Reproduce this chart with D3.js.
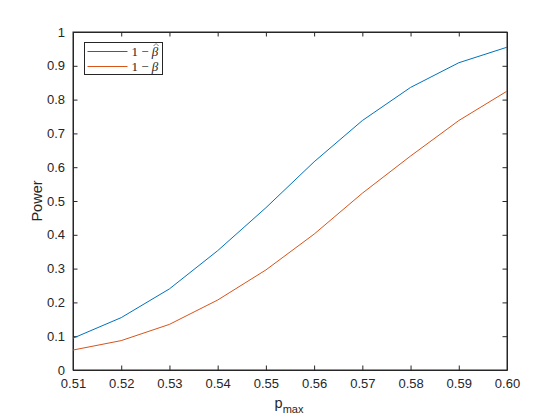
<!DOCTYPE html>
<html>
<head>
<meta charset="utf-8">
<script src="https://cdn.jsdelivr.net/npm/d3@7"></script>
<style>
  body { margin: 0; background: #fff; }
  text { font-family: 'Liberation Sans', Arial, sans-serif; fill: #262626; }
</style>
</head>
<body>
<div id="chart"></div>
<script>
// data
const pmax = [0.51, 0.52, 0.53, 0.54, 0.55, 0.56, 0.57, 0.58, 0.59, 0.60];
const powerHat = [0.094, 0.155, 0.240, 0.353, 0.480, 0.616, 0.738, 0.836, 0.909, 0.955];
const power = [0.059, 0.087, 0.135, 0.207, 0.296, 0.402, 0.523, 0.633, 0.738, 0.825];
const xTicks = [0.51, 0.52, 0.53, 0.54, 0.55, 0.56, 0.57, 0.58, 0.59, 0.60];
const yTicks = [0, 0.1, 0.2, 0.3, 0.4, 0.5, 0.6, 0.7, 0.8, 0.9, 1];

const W = 560, H = 420;
const margin = { top: 32, right: 53, bottom: 50, left: 73 };
const width = W - margin.left - margin.right;
const height = H - margin.top - margin.bottom;

const svg = d3.select('#chart')
  .append('svg')
    .attr('width', W)
    .attr('height', H)
  .append('g')
    .attr('transform', `translate(${margin.left},${margin.top})`);

const x = d3.scaleLinear().domain([0.51, 0.60]).range([0, width]);
const y = d3.scaleLinear().domain([0, 1]).range([height, 0]);

const tickLen = 4.5;

// axes, ticks pointing inwards like matlab
svg.append('g')
  .attr('transform', `translate(0,${height})`)
  .call(d3.axisBottom(x).tickValues(xTicks).tickFormat(d3.format('.2f')).tickSizeInner(-tickLen).tickSizeOuter(0).tickPadding(9));
svg.append('g')
  .call(d3.axisLeft(y).tickValues(yTicks).tickFormat(d => d === 0 ? '0' : d === 1 ? '1' : d3.format('.1f')(d)).tickSizeInner(-tickLen).tickSizeOuter(0).tickPadding(8));
svg.append('g')
  .call(d3.axisTop(x).tickValues(xTicks).tickFormat('').tickSizeInner(-tickLen).tickSizeOuter(0));
svg.append('g')
  .attr('transform', `translate(${width},0)`)
  .call(d3.axisRight(y).tickValues(yTicks).tickFormat('').tickSizeInner(-tickLen).tickSizeOuter(0));

svg.selectAll('.domain, .tick line').attr('stroke', '#262626').attr('stroke-width', 1);
svg.selectAll('.tick text').style('font-size', '13px').attr('fill', '#262626')
  .style('font-family', "'Liberation Sans', Arial, sans-serif");

// box
svg.append('rect')
  .attr('x', 0).attr('y', 0)
  .attr('width', width).attr('height', height)
  .attr('fill', 'none')
  .attr('stroke', '#262626')
  .attr('stroke-width', 1);

// lines
const line = d3.line()
  .x((d, i) => x(pmax[i]))
  .y(d => y(d));

svg.append('path')
  .datum(powerHat)
  .attr('fill', 'none')
  .attr('stroke', '#0072BD')
  .attr('stroke-width', 1)
  .attr('d', line);

svg.append('path')
  .datum(power)
  .attr('fill', 'none')
  .attr('stroke', '#D95319')
  .attr('stroke-width', 1)
  .attr('d', line);

// axis labels
svg.append('text')
  .attr('transform', `translate(${-31.5},${height / 2}) rotate(-90)`)
  .attr('text-anchor', 'middle')
  .style('font-size', '14.5px')
  .text('Power');

const xl = svg.append('text')
  .attr('x', width / 2 - 1)
  .attr('y', height + 38)
  .attr('text-anchor', 'middle')
  .style('font-size', '14.5px');
xl.append('tspan').text('p');
xl.append('tspan').attr('dy', 5).style('font-size', '11px').text('max');

// legend
const legend = svg.append('g').attr('transform', 'translate(11.5,10.5)');
legend.append('rect')
  .attr('width', 78).attr('height', 32)
  .attr('fill', '#fff')
  .attr('stroke', '#262626')
  .attr('stroke-width', 1);

const entries = [
  { color: '#0072BD', hat: true },
  { color: '#D95319', hat: false }
];
entries.forEach((e, i) => {
  const ly = 9 + i * 15;
  legend.append('line')
    .attr('x1', 3).attr('x2', 43)
    .attr('y1', ly).attr('y2', ly)
    .attr('stroke', e.color)
    .attr('stroke-width', 1);
  const t = legend.append('text')
    .attr('x', 47)
    .attr('y', ly + 4.5)
    .style('font-family', "'Liberation Serif', 'DejaVu Serif', serif")
    .style('font-size', '13px')
    .attr('fill', '#555');
  t.append('tspan').text('1 \u2212 ');
  const b = t.append('tspan').style('font-style', 'italic').text('\u03B2');
  if (e.hat) {
    // draw the hat over beta by hand, the combining accent lands badly
    const n = t.node();
    const len = n.getNumberOfChars();
    const box = n.getExtentOfChar(len - 1);
    const cx = box.x + box.width / 2 + 1;
    const top = box.y + 1;
    legend.append('path')
      .attr('d', `M${cx - 2.5},${top + 1} L${cx},${top - 1.5} L${cx + 2.5},${top + 1}`)
      .attr('fill', 'none')
      .attr('stroke', '#555')
      .attr('stroke-width', 0.8);
  }
});
</script>
</body>
</html>
